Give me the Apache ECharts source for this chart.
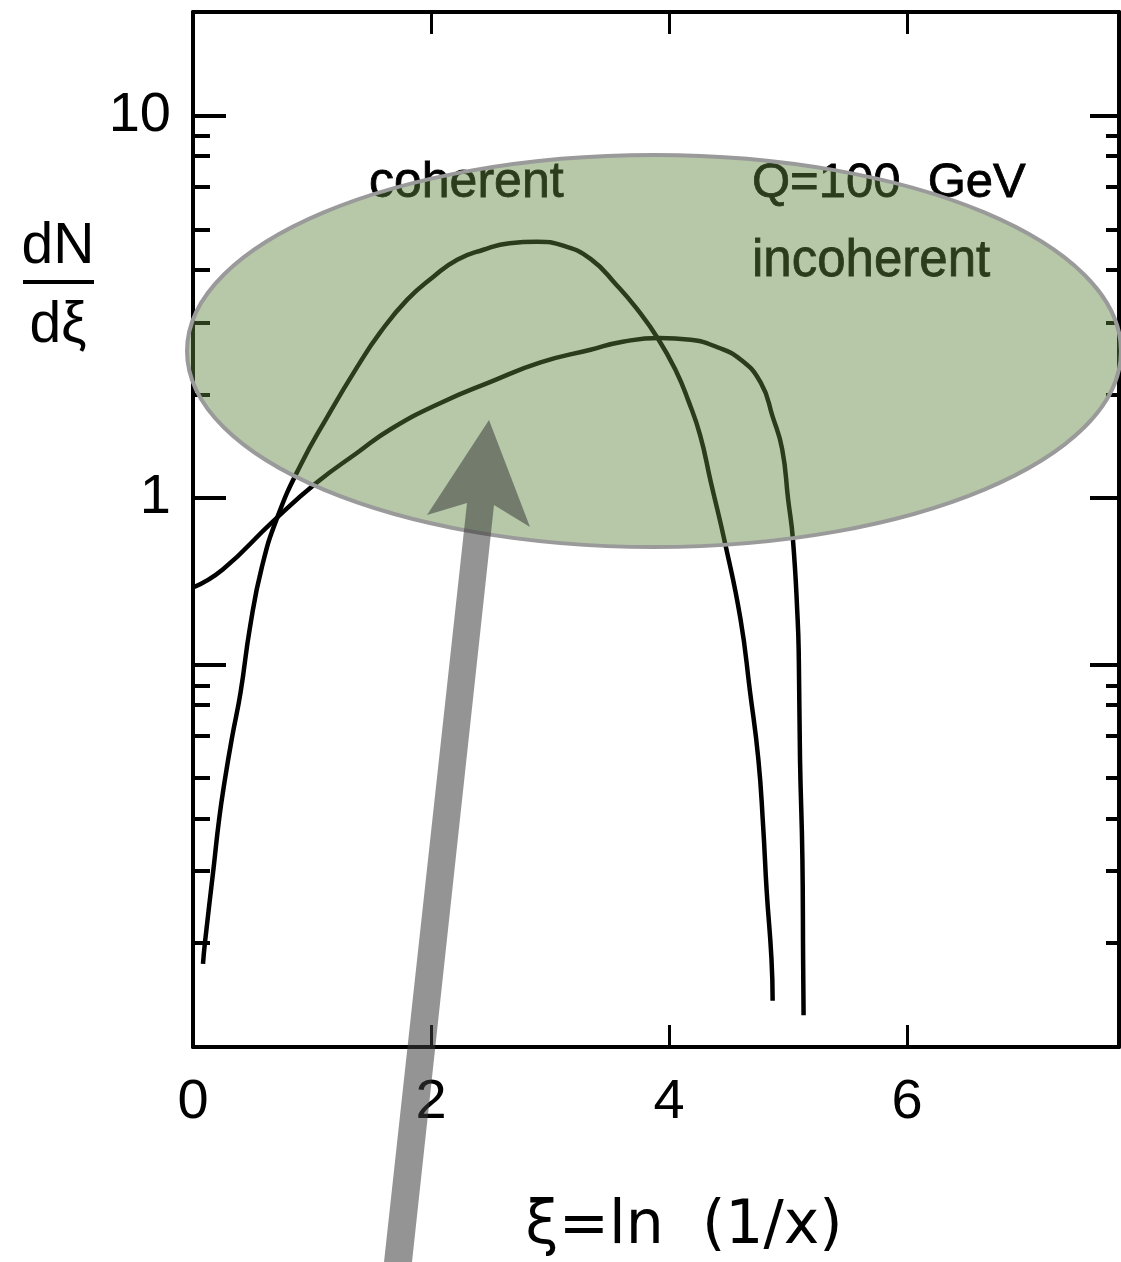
<!DOCTYPE html>
<html><head><meta charset="utf-8">
<script src="https://cdn.jsdelivr.net/npm/echarts@6/dist/echarts.min.js"></script>
<style>html,body{margin:0;padding:0;background:#fff}#c{width:1121px;height:1262px}</style>
</head><body><div id="c"></div>
<script>
// ---- data ----
const coherentX = [0.084,0.10,0.17,0.22,0.27,0.33,0.40,0.48,0.58,0.71,0.90,1.13,1.38,1.57,1.80,2.02,2.22,2.44,2.66,2.89,3.11,3.34,3.56,3.73,3.91,4.06,4.16,4.26,4.35,4.47,4.60,4.68,4.75,4.79,4.82,4.86,4.87];
const coherentY = [0.060,0.068,0.105,0.144,0.184,0.237,0.309,0.46,0.66,0.89,1.21,1.63,2.20,2.70,3.30,3.79,4.20,4.46,4.64,4.68,4.57,4.22,3.60,3.12,2.60,2.14,1.80,1.46,1.10,0.76,0.48,0.31,0.206,0.138,0.093,0.062,0.048];
const incoherentX = [0,0.25,0.67,1.04,1.38,1.66,2.08,2.50,2.92,3.34,3.61,3.92,4.18,4.40,4.60,4.77,4.87,4.95,5.00,5.04,5.08,5.09,5.10,5.12,5.126,5.13];
const incoherentY = [0.581,0.648,0.865,1.095,1.31,1.51,1.77,2.01,2.26,2.44,2.56,2.62,2.59,2.48,2.30,2.00,1.63,1.34,0.99,0.78,0.48,0.377,0.206,0.113,0.062,0.044];

const xLabelValues = [0, 2, 4, 6];
const xTickValues = [2, 4, 6];
const yLabelValues = [10, 1];
const yMajorTickValues = [10, 1, 0.365];
const yMinorTickValues = [8.86,7.86,6.52,5.03,3.95,2.87,1.86,0.322,0.286,0.237,0.184,0.144,0.105,0.068];
const xRange = [0, 7.78];
const yRange = [0.03633, 18.72];

const xName = 'ξ=ln  (1/x)';
const yNameTop = 'dN';
const yNameBottom = 'dξ';
const noteCoherent = 'coherent';
const noteQ = 'Q=100  GeV';
const noteIncoherent = 'incoherent';

const FONT = '"Liberation Sans", Arial, sans-serif';
const toPairs = (xs, ys) => xs.map((x, i) => [x, ys[i]]);

const chart = echarts.init(document.getElementById('c'), null, {renderer: 'canvas'});

function yAx(pos, ticks, len, showLine, labels) {
  return {
    type: 'log', logBase: 10, position: pos, min: yRange[0], max: yRange[1],
    axisLine: {show: showLine, lineStyle: {color: '#000', width: 4}},
    axisTick: {show: true, inside: true, length: len, customValues: ticks, lineStyle: {color: '#000', width: 4}},
    axisLabel: labels ? {show: true, customValues: labels, fontSize: 56, color: '#000', fontFamily: FONT, margin: 22,
      formatter: v => String(v)} : {show: false},
    splitLine: {show: false}, minorTick: {show: false}, minorSplitLine: {show: false}
  };
}

const option = {
  backgroundColor: '#fff',
  animation: false,
  grid: {left: 193, right: 2, top: 12, bottom: 214, containLabel: false},
  xAxis: [
    {
      type: 'value', position: 'bottom', min: xRange[0], max: xRange[1], interval: 2,
      axisLine: {show: true, onZero: false, lineStyle: {color: '#000', width: 4}},
      axisTick: {show: true, inside: true, length: 22, customValues: xTickValues, lineStyle: {color: '#000', width: 3}},
      axisLabel: {show: true, customValues: xLabelValues, fontSize: 56, color: '#000', fontFamily: FONT, margin: 28},
      splitLine: {show: false},
      name: xName, nameLocation: 'middle', nameGap: 150,
      nameTextStyle: {fontSize: 60, color: '#000', fontFamily: '"DejaVu Sans", sans-serif', padding: [0, 0, 0, 56]}
    },
    {
      type: 'value', position: 'top', min: xRange[0], max: xRange[1], interval: 2,
      axisLine: {show: true, onZero: false, lineStyle: {color: '#000', width: 4}},
      axisTick: {show: true, inside: true, length: 22, customValues: xTickValues, lineStyle: {color: '#000', width: 3}},
      axisLabel: {show: false}, splitLine: {show: false}
    }
  ],
  yAxis: [
    yAx('left', yMajorTickValues, 33, true, yLabelValues),
    yAx('left', yMinorTickValues, 17, false, null),
    yAx('right', yMajorTickValues, 29, true, null),
    yAx('right', yMinorTickValues, 13, false, null)
  ],
  series: [
    {type: 'line', name: 'coherent', data: toPairs(coherentX, coherentY), xAxisIndex: 0, yAxisIndex: 0,
     showSymbol: false, smooth: 0.5, lineStyle: {color: '#000', width: 4.5}, z: 3},
    {type: 'line', name: 'incoherent', data: toPairs(incoherentX, incoherentY), xAxisIndex: 0, yAxisIndex: 0,
     showSymbol: false, smooth: 0.5, lineStyle: {color: '#000', width: 4.5}, z: 3}
  ],
  graphic: [
    {type: 'text', z: 5, style: {text: noteCoherent, x: 369, y: 183, font: '50px ' + FONT, fill: '#000', textVerticalAlign: 'middle', stroke: '#000', lineWidth: 0.8}},
    {type: 'text', z: 5, style: {text: noteQ, x: 752, y: 183, font: '49px ' + FONT, fill: '#000', textVerticalAlign: 'middle', stroke: '#000', lineWidth: 0.8}},
    {type: 'text', z: 5, style: {text: noteIncoherent, x: 752, y: 262, font: '51px ' + FONT, fill: '#000', textVerticalAlign: 'middle', stroke: '#000', lineWidth: 0.8}},
    {type: 'text', z: 5, style: {text: yNameTop, x: 58, y: 247, font: '57px ' + FONT, fill: '#000', textAlign: 'center', textVerticalAlign: 'middle'}},
    {type: 'rect', z: 5, shape: {x: 23, y: 280, width: 71, height: 4}, style: {fill: '#000'}},
    {type: 'text', z: 5, style: {text: yNameBottom, x: 58, y: 326, font: '57px ' + FONT, fill: '#000', textAlign: 'center', textVerticalAlign: 'middle'}},
    {type: 'ellipse', z: 50, shape: {cx: 654, cy: 351, rx: 467, ry: 196},
     style: {fill: 'rgba(93,133,62,0.45)', stroke: '#9a9a9a', lineWidth: 4}},
    {type: 'polygon', z: 60, shape: {points: [[489,420],[530,527],[494,505],[412,1262],[384,1262],[467,503],[427,515]]},
     style: {fill: 'rgba(60,60,60,0.55)'}}
  ]
};
chart.setOption(option);
</script>
</body></html>
